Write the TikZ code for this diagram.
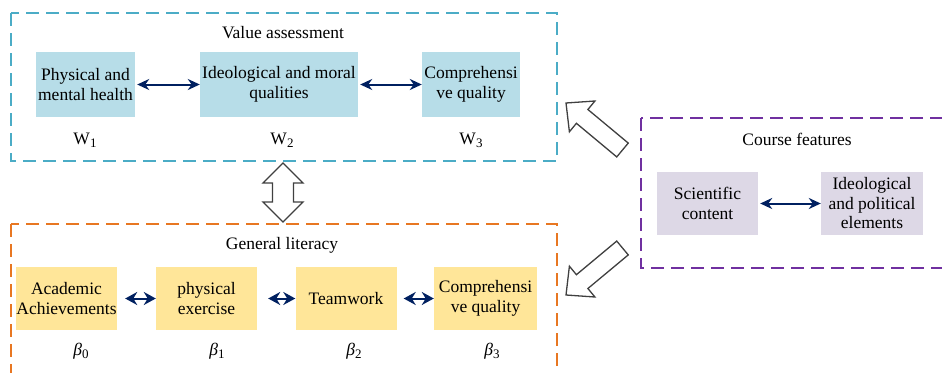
\documentclass[tikz,border=0pt]{standalone}
\usepackage{fontspec}
\setmainfont{Liberation Serif}
\usetikzlibrary{arrows.meta}
\definecolor{vblue}{HTML}{4BACC6}
\definecolor{vfill}{HTML}{B7DDE8}
\definecolor{lorange}{HTML}{E87722}
\definecolor{lfill}{HTML}{FFE699}
\definecolor{cpurple}{HTML}{7030A0}
\definecolor{cfill}{HTML}{DDD8E6}
\definecolor{navy}{HTML}{002060}
\definecolor{hollowc}{HTML}{404040}
\newcommand{\subsc}[1]{\raisebox{-0.4ex}{\fontsize{13}{13}\selectfont #1}}
\begin{document}
\begin{tikzpicture}[x=1pt,y=-1pt,
 every node/.style={font=\fontsize{17.5}{19.5}\selectfont, inner sep=0pt},
 frame/.style={line width=1.5pt, dash pattern=on 13pt off 7pt},
 vbox/.style={fill=vfill, minimum height=65pt, align=center},
 lbox/.style={fill=lfill, minimum width=101pt, minimum height=63pt, align=center},
 cbox/.style={fill=cfill, minimum width=101pt, minimum height=63pt, align=center},
 link/.style={navy, line width=2pt, {Stealth[length=12pt,width=11pt]}-{Stealth[length=12pt,width=11pt]}},
 blink/.style={navy, line width=2pt, {Stealth[length=12pt,width=13pt]}-{Stealth[length=12pt,width=13pt]}},
 hollowarrow/.style={draw=hollowc, fill=white, line width=1.3pt, line join=miter}
]
\useasboundingbox (0,0) rectangle (942,372);
\clip (0,0) rectangle (942,372);
% frames
\draw[frame, vblue] (11,13) rectangle (557,161);
\draw[frame, lorange] (11,224) rectangle (557,392);
\draw[frame, cpurple] (641,118) rectangle (962,268);
% titles
\node (tva) at (283,33) {Value assessment};
\node (tgl) at (282,245) {General literacy};
\node (tcf) at (797,139) {Course features};
% value assessment boxes
\node[vbox, minimum width=99pt] (v1) at (85.5,84.5) {Physical and\\mental health};
\node[vbox, minimum width=158pt] (v2) at (279,84.5) {Ideological and moral\\qualities};
\node[vbox, minimum width=98pt] (v3) at (471,84.5) {Comprehensi\\ve quality};
\draw[link] ([xshift=2pt]v1.east) -- (v2.west);
\draw[link] ([xshift=2pt]v2.east) -- (v3.west);
\node (w1) at (85,140) {W\subsc{1}};
\node (w2) at (282,140) {W\subsc{2}};
\node (w3) at (471,140) {W\subsc{3}};
% general literacy boxes
\node[lbox] (l1) at (66.5,298.5) {Academic\\Achievements};
\node[lbox] (l2) at (206.5,298.5) {physical\\exercise};
\node[lbox] (l3) at (346,298.5) {Teamwork};
\node[lbox, minimum width=103pt] (l4) at (485.5,298.5) {Comprehensi\\ve quality};
\draw[blink] ([xshift=8pt]l1.east) -- (l2.west);
\draw[blink] ([xshift=11pt]l2.east) -- (l3.west);
\draw[blink] ([xshift=7pt]l3.east) -- (l4.west);
\node (b0) at (81,351) {\textit{β}\subsc{0}};
\node (b1) at (217,351) {\textit{β}\subsc{1}};
\node (b2) at (354,351) {\textit{β}\subsc{2}};
\node (b3) at (492,351) {\textit{β}\subsc{3}};
% course features boxes
\node[cbox] (c1) at (707.5,203.5) {Scientific\\content};
\node[cbox, minimum width=102pt] (c2) at (872,203.5) {Ideological\\and political\\elements};
\draw[link] ([xshift=2pt]c1.east) -- (c2.west);
% hollow arrows
\draw[hollowarrow] (283,163) -- (303,183) -- (293.5,183) -- (293.5,202) -- (303,202) -- (283,222) -- (263,202) -- (272.5,202) -- (272.5,183) -- (263,183) -- cycle;
\draw[hollowarrow] (628.25,143.08) -- (587.9,109.5) -- (594.9,101.0) -- (566,103) -- (569.4,131.8) -- (576.4,123.3) -- (616.75,156.92) -- cycle;
\draw[hollowarrow] (628.25,254.92) -- (587.9,288.5) -- (594.9,297.0) -- (566,295) -- (569.4,266.2) -- (576.4,274.7) -- (616.75,241.08) -- cycle;
\end{tikzpicture}
\end{document}
